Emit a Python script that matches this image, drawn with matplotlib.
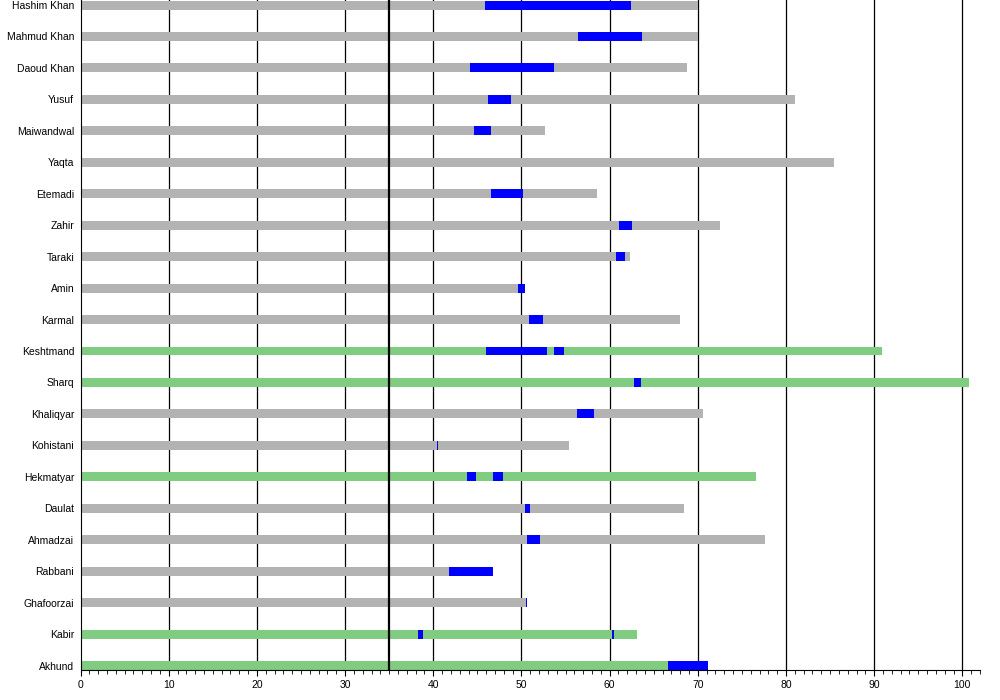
import matplotlib
matplotlib.use("Agg")
import matplotlib.pyplot as plt
from matplotlib.ticker import MultipleLocator

# Afghan prime ministers: age at death (or now), and age spans in office
names = ['Hashim Khan', 'Mahmud Khan', 'Daoud Khan', 'Yusuf', 'Maiwandwal', 'Yaqta',
         'Etemadi', 'Zahir', 'Taraki', 'Amin', 'Karmal', 'Keshtmand', 'Sharq',
         'Khaliqyar', 'Kohistani', 'Hekmatyar', 'Daulat', 'Ahmadzai', 'Rabbani',
         'Ghafoorzai', 'Kabir', 'Akhund']
lifespan = [70.0, 70.0, 68.8, 81.0, 52.7, 85.5, 58.6, 72.5, 62.3, 50.45, 68.0, 90.85,
            100.74, 70.6, 55.4, 76.6, 68.4, 77.6, 46.72, 50.64, 63.1, 71.17]
living = [False, False, False, False, False, False, False, False, False, False, False, True,
          True, False, False, True, False, False, False, False, True, True]
terms = [
    [(45.85, 62.38)],
    [(56.38, 63.62)],
    [(44.15, 53.66)],
    [(46.19, 48.79)],
    [(44.57, 46.6)],
    [],
    [(46.6, 50.23)],
    [(61.1, 62.57)],
    [(60.75, 61.7)],
    [(49.66, 50.45)],
    [(50.9, 52.4)],
    [(45.96, 52.88), (53.69, 54.81)],
    [(62.76, 63.6)],
    [(56.3, 58.2)],
    [(40.4, 40.55)],
    [(43.8, 44.8), (46.76, 47.9)],
    [(50.42, 51.0)],
    [(50.68, 52.15)],
    [(41.74, 46.72)],
    [(50.53, 50.64)],
    [(38.23, 38.83), (60.3, 60.5)],
    [(66.67, 71.17)],
]

plt.rcParams['font.family'] = ['Liberation Sans', 'DejaVu Sans']

fig = plt.figure(figsize=(10, 7), dpi=100)
ax = fig.add_axes([0.0805, 30 / 700, 0.8995, 670 / 700])

n = len(names)
ypos = [n - 1 - i for i in range(n)]
h = 0.285

for xv in range(10, 101, 10):
    ax.axvline(xv, color='black', lw=0.9, zorder=0)
ax.axvline(35, color='black', lw=1.6, zorder=3)

for y, life, alive, spans in zip(ypos, lifespan, living, terms):
    ax.barh(y, life, height=h, color='#80cc80' if alive else '#b3b3b3', zorder=2)
    for a, b in spans:
        ax.barh(y, b - a, left=a, height=h, color='#0000ff', zorder=2)

ax.set_xlim(0, 102)
ax.set_ylim(-h / 2, n - 1 + 0.16)
ax.set_yticks(ypos)
ax.set_yticklabels(names, fontsize=7.5)
ax.tick_params(axis='y', length=0, pad=4.5)
ax.xaxis.set_major_locator(MultipleLocator(10))
ax.xaxis.set_minor_locator(MultipleLocator(1))
ax.tick_params(axis='x', which='major', length=4, labelsize=7.5, pad=3)
ax.tick_params(axis='x', which='minor', length=3)
for s in ['top', 'right']:
    ax.spines[s].set_visible(False)

fig.savefig('out.png', dpi=100)
